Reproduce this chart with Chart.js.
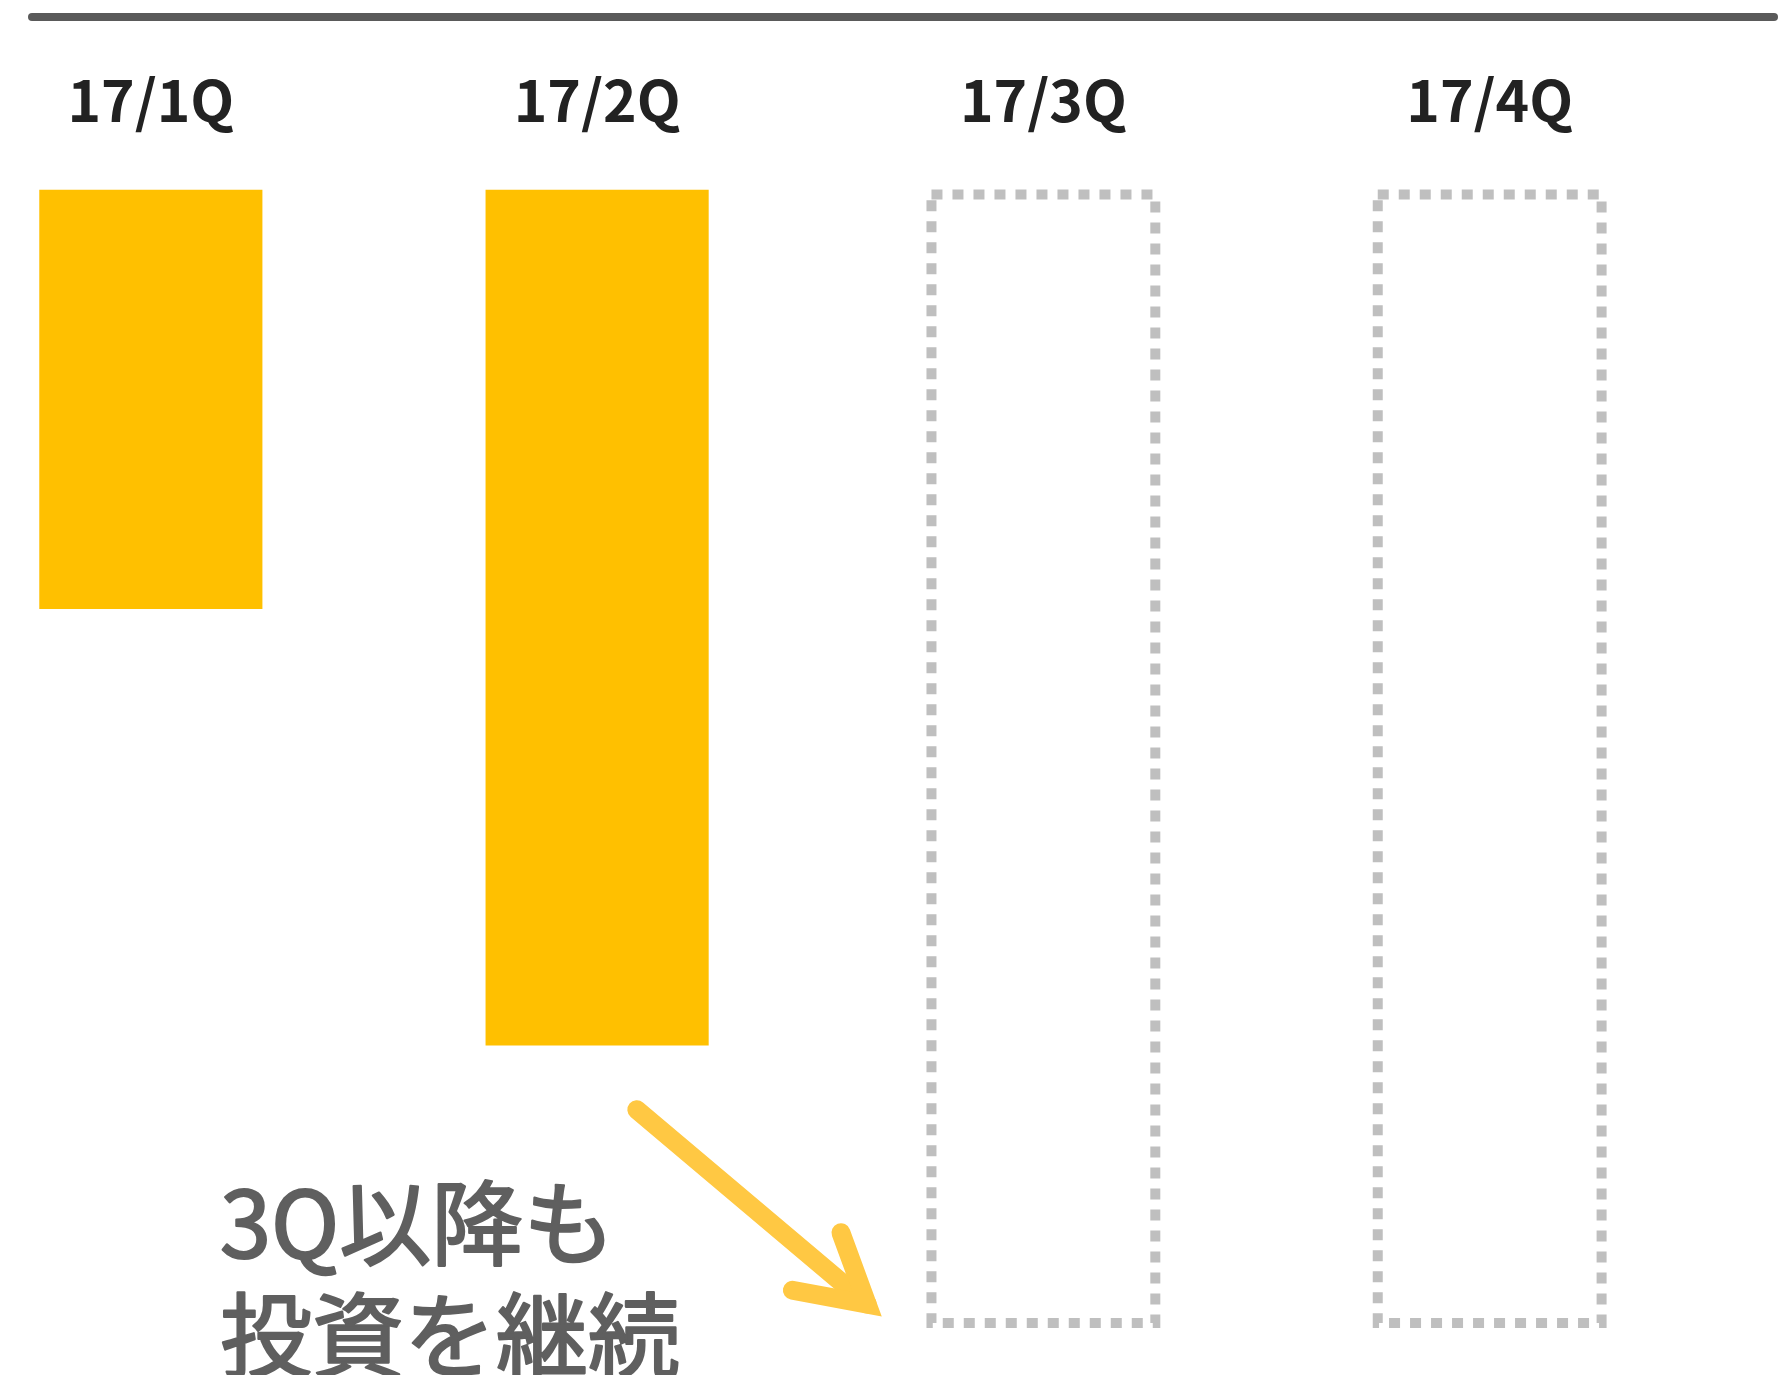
<!DOCTYPE html>
<html lang="ja">
<head>
<meta charset="utf-8">
<title>四半期投資額</title>
<script src="https://cdn.jsdelivr.net/npm/chart.js@4.4.1/dist/chart.umd.min.js"></script>
<style>
  html, body { margin: 0; padding: 0; background: #fff; }
  #wrap { position: relative; width: 1786px; height: 1375px; }
</style>
</head>
<body>
<div id="wrap"><canvas id="investChart"></canvas></div>
<script>
// quarters along the top
const quarters = ['17/1Q', '17/2Q', '17/3Q', '17/4Q'];
// booked investment (solid bars); 3Q/4Q not reported yet
const actual = [49, 100, null, null];
// placeholder size for the coming quarters (dashed boxes)
const planned = [null, null, 133, 133];
// note below the bars
const noteLines = ['3Q以降も', '投資を継続'];

const JP_FONT = '"Noto Sans CJK JP", "Noto Sans", sans-serif';

// linear x so the first bar can sit close to the left edge
const toPoints = arr => arr
	.map((v, i) => ({x: i, y: v}))
	.filter(p => p.y !== null);

const decorations = {
	id: 'decorations',
	afterDraw(chart) {
		const {ctx, scales: {x, y}} = chart;

		// rule across the top
		ctx.save();
		ctx.strokeStyle = '#5A5A5A';
		ctx.lineWidth = 8;
		ctx.lineCap = 'round';
		ctx.beginPath();
		ctx.moveTo(32, 17);
		ctx.lineTo(1774, 17);
		ctx.stroke();
		ctx.restore();

		// dashed outline for the quarters still to come
		const meta = chart.getDatasetMeta(1);
		ctx.save();
		ctx.strokeStyle = '#BFBFBF';
		ctx.lineWidth = 10;
		ctx.setLineDash([11, 10]);
		meta.data.forEach(bar => {
			const p = bar.getProps(['x', 'y', 'base', 'width'], true);
			const lw = ctx.lineWidth;
			const top = Math.min(p.y, p.base);
			const bottom = Math.max(p.y, p.base);
			ctx.strokeRect(p.x - p.width / 2 + lw / 2, top + lw / 2, p.width - lw, bottom - top - lw);
		});
		ctx.restore();

		// arrow pointing from 2Q towards the next quarter
		const from = {x: x.getPixelForValue(1.089), y: y.getPixelForValue(107.5)};
		const to = {x: x.getPixelForValue(1.605), y: y.getPixelForValue(130.2)};
		const ang = Math.atan2(to.y - from.y, to.x - from.x);
		const head = 76, spread = 29.7 * Math.PI / 180;
		ctx.save();
		ctx.strokeStyle = '#FFC843';
		ctx.lineWidth = 19;
		ctx.lineCap = 'round';
		ctx.lineJoin = 'miter';
		ctx.beginPath();
		ctx.moveTo(from.x, from.y);
		ctx.lineTo(to.x, to.y);
		ctx.stroke();
		ctx.beginPath();
		ctx.moveTo(to.x - head * Math.cos(ang - spread), to.y - head * Math.sin(ang - spread));
		ctx.lineTo(to.x, to.y);
		ctx.lineTo(to.x - head * Math.cos(ang + spread), to.y - head * Math.sin(ang + spread));
		ctx.stroke();
		ctx.restore();

		// note text, regular face thickened a little
		ctx.save();
		ctx.fillStyle = '#5F5F5F';
		ctx.strokeStyle = '#5F5F5F';
		ctx.lineWidth = 2.2;
		ctx.lineJoin = 'round';
		ctx.font = '92px ' + JP_FONT;
		ctx.textAlign = 'left';
		ctx.textBaseline = 'alphabetic';
		noteLines.forEach((line, i) => {
			ctx.fillText(line, 220, 1258 + i * 112);
			ctx.strokeText(line, 220, 1258 + i * 112);
		});
		ctx.restore();
	}
};

const data = {
	datasets: [
		{
			label: '実績',
			data: toPoints(actual),
			backgroundColor: '#FFC000',
			borderWidth: 0,
			grouped: false,
			categoryPercentage: 1,
			barPercentage: 0.5
		},
		{
			label: '予定',
			data: toPoints(planned),
			backgroundColor: 'rgba(0,0,0,0)',
			borderWidth: 0,
			grouped: false,
			categoryPercentage: 1,
			barPercentage: 0.524
		}
	]
};

const config = {
	type: 'bar',
	data: data,
	options: {
		responsive: true,
		maintainAspectRatio: false,
		animation: false,
		layout: {
			padding: {top: 11, bottom: 47, left: 0, right: 0}
		},
		plugins: {
			legend: {display: false},
			tooltip: {enabled: false}
		},
		scales: {
			x: {
				type: 'linear',
				position: 'top',
				min: -0.338,
				max: 3.664,
				offset: false,
				grid: {display: false, drawTicks: false},
				border: {display: false},
				afterBuildTicks: scale => {
					scale.ticks = quarters.map((q, i) => ({value: i}));
				},
				ticks: {
					autoSkip: false,
					maxRotation: 0,
					padding: 55,
					color: '#222222',
					font: {family: JP_FONT, size: 57, weight: 'bold'},
					callback: v => quarters[v]
				}
			},
			y: {
				reverse: true,
				min: 0,
				max: 133,
				display: false
			}
		}
	},
	plugins: [decorations]
};

const investChart = new Chart(document.getElementById('investChart'), config);
</script>
</body>
</html>
